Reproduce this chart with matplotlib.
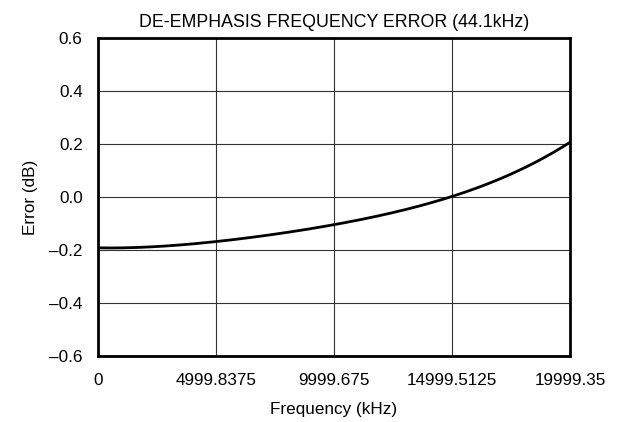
import numpy as np
import matplotlib
matplotlib.use("Agg")
import matplotlib.pyplot as plt

# Values
freq_khz = [0, 2500, 5000, 7500, 10000, 12500, 15000, 16250, 17500, 18750, 19999.35]
error_db = [-0.192, -0.186, -0.170, -0.140, -0.103, -0.058, 0.0, 0.037, 0.091, 0.142, 0.205]

x_ticks = [0, 4999.8375, 9999.675, 14999.5125, 19999.35]
x_tick_labels = ["0", "4999.8375", "9999.675", "14999.5125", "19999.35"]
y_ticks = [-0.6, -0.4, -0.2, 0.0, 0.2, 0.4, 0.6]

plt.rcParams['font.family'] = ['Liberation Sans', 'DejaVu Sans']
plt.rcParams['font.size'] = 12.3

fig = plt.figure(figsize=(6.26, 4.22), dpi=100)
ax = fig.add_axes([0.1565, 0.1564, 0.754, 0.7536])

# Smooth curve through the read points
xs = np.linspace(freq_khz[0], freq_khz[-1], 300)
coef = np.polyfit(freq_khz, error_db, 4)
ax.plot(xs, np.polyval(coef, xs), color='black', linewidth=2)

ax.set_xlim(0, 19999.35)
ax.set_ylim(-0.6, 0.6)
ax.set_xticks(x_ticks)
ax.set_xticklabels(x_tick_labels)
ax.set_yticks(y_ticks)
ax.set_yticklabels([f"{v:.1f}".replace("-", "\u2013") for v in y_ticks])
ax.tick_params(axis='x', length=0, pad=12)
ax.tick_params(axis='y', length=0, pad=11)
ax.grid(True, color='#333333', linewidth=0.8)
for s in ax.spines.values():
    s.set_linewidth(2)

ax.set_xlabel("Frequency (kHz)", labelpad=10)
ax.set_ylabel("Error (dB)", labelpad=8)
ax.set_title("DE-EMPHASIS FREQUENCY ERROR (44.1kHz)", fontsize=12.8, pad=8)

fig.savefig("out.png", dpi=100)
